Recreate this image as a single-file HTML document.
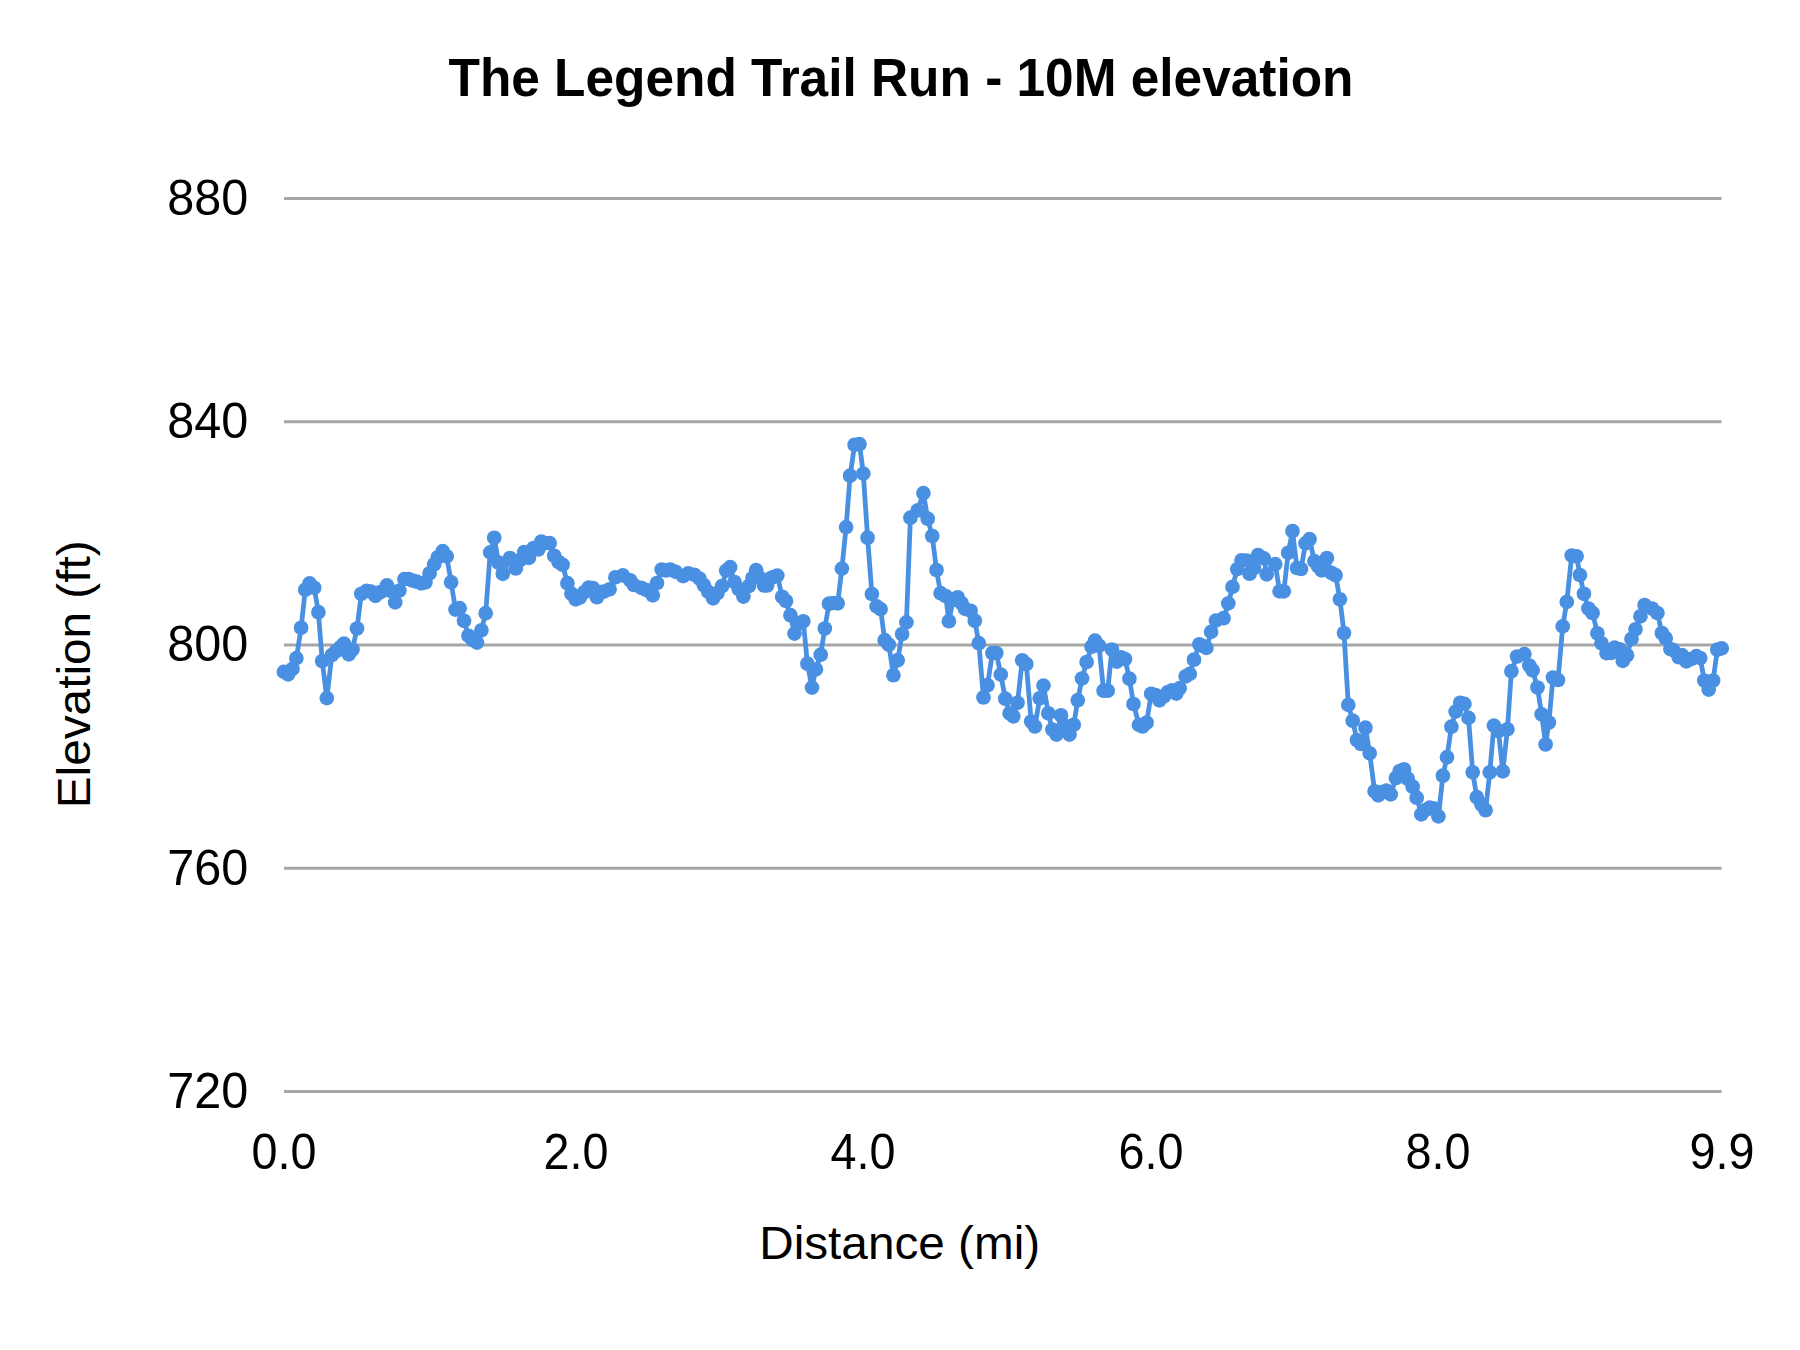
<!DOCTYPE html>
<html><head><meta charset="utf-8">
<style>
html,body{margin:0;padding:0;background:#fff;width:1800px;height:1350px;overflow:hidden}
svg{display:block}
text{font-family:"Liberation Sans",sans-serif;fill:#000}
</style></head><body>
<svg width="1800" height="1350" viewBox="0 0 1800 1350">
<rect width="1800" height="1350" fill="#fff"/>
<text x="901" y="96.3" font-size="53" font-weight="bold" text-anchor="middle" textLength="905" lengthAdjust="spacingAndGlyphs">The Legend Trail Run - 10M elevation</text>
<g stroke="#a6a6a6" stroke-width="3">
<line x1="284" y1="198.5" x2="1721.5" y2="198.5"/>
<line x1="284" y1="421.75" x2="1721.5" y2="421.75"/>
<line x1="284" y1="645" x2="1721.5" y2="645"/>
<line x1="284" y1="868.25" x2="1721.5" y2="868.25"/>
<line x1="284" y1="1091.5" x2="1721.5" y2="1091.5"/>
</g>
<g font-size="50" text-anchor="end">
<text x="248.3" y="214.8" textLength="81" lengthAdjust="spacingAndGlyphs">880</text>
<text x="248.3" y="438.1" textLength="81" lengthAdjust="spacingAndGlyphs">840</text>
<text x="248.3" y="661.3" textLength="81" lengthAdjust="spacingAndGlyphs">800</text>
<text x="248.3" y="884.6" textLength="81" lengthAdjust="spacingAndGlyphs">760</text>
<text x="248.3" y="1107.9" textLength="81" lengthAdjust="spacingAndGlyphs">720</text>
</g>
<g font-size="50" text-anchor="middle">
<text x="283.9" y="1168.9" textLength="65" lengthAdjust="spacingAndGlyphs">0.0</text>
<text x="575.9" y="1168.9" textLength="65" lengthAdjust="spacingAndGlyphs">2.0</text>
<text x="863" y="1168.9" textLength="65" lengthAdjust="spacingAndGlyphs">4.0</text>
<text x="1150.9" y="1168.9" textLength="65" lengthAdjust="spacingAndGlyphs">6.0</text>
<text x="1438" y="1168.9" textLength="65" lengthAdjust="spacingAndGlyphs">8.0</text>
<text x="1721.9" y="1168.9" textLength="65" lengthAdjust="spacingAndGlyphs">9.9</text>
</g>
<text x="899.7" y="1259.2" font-size="47" text-anchor="middle" textLength="281" lengthAdjust="spacingAndGlyphs">Distance (mi)</text>
<text transform="translate(90,674.3) rotate(-90)" x="0" y="0" font-size="47" text-anchor="middle" textLength="268" lengthAdjust="spacingAndGlyphs">Elevation (ft)</text>
<g fill="none" stroke="#4a90e2" stroke-width="4.8" stroke-linejoin="round" stroke-linecap="round"><path d="M283.9,671.9 L288.1,674.4 L292.5,668.9 L296.4,658.1 L301.1,627.8 L305.3,589.7 L309.6,583.4 L314.2,587.8 L318.4,612.2 L322.2,661.0 L326.8,698.1 L331.9,655.0 L336.2,651.0 L340.6,647.0 L344.0,643.7 L348.8,654.4 L352.5,649.5 L357.0,628.5 L361.3,593.8 L366.7,590.8 L371.1,591.6 L375.4,595.8 L380.5,592.0 L386.9,585.4 L391.0,591.0 L395.2,602.4 L399.4,590.6 L404.4,579.1 L408.7,579.1 L412.5,580.5 L416.7,581.7 L421.1,583.3 L425.4,582.4 L429.6,573.3 L434.2,564.4 L437.8,557.3 L442.7,551.1 L446.7,556.4 L451.1,582.2 L455.5,609.6 L459.7,608.2 L464.0,620.8 L468.5,635.8 L472.7,640.0 L477.0,642.6 L481.4,630.3 L485.7,613.2 L490.2,552.4 L494.2,537.8 L498.6,562.7 L502.8,573.8 L509.9,558.0 L515.8,568.5 L520.0,560.0 L524.1,552.1 L528.9,557.8 L533.5,548.0 L538.3,549.5 L541.3,541.7 L545.5,543.0 L549.7,543.1 L554.2,555.8 L558.6,562.0 L562.6,564.8 L567.4,583.2 L571.5,593.7 L575.7,599.3 L579.8,597.6 L584.5,592.0 L588.7,587.6 L593.1,588.1 L596.9,597.2 L603.5,591.7 L609.6,589.3 L615.4,577.3 L622.8,575.4 L630.2,580.3 L633.9,585.0 L641.3,587.8 L646.5,590.0 L652.8,595.3 L657.0,583.0 L661.7,569.5 L666.1,570.5 L670.2,569.5 L675.7,571.9 L683.1,576.1 L688.3,573.3 L694.3,574.8 L699.4,578.5 L703.9,585.2 L708.3,591.9 L713.1,598.3 L717.5,593.0 L722.1,586.0 L726.2,570.6 L730.2,567.1 L734.5,582.0 L738.7,589.0 L743.4,596.6 L748.9,586.0 L752.5,578.0 L756.1,570.2 L760.0,578.0 L764.0,585.5 L767.1,585.5 L771.0,578.0 L773.3,577.0 L777.3,575.6 L782.2,596.8 L786.0,601.0 L790.4,615.2 L794.5,633.6 L798.5,623.3 L803.3,621.3 L807.4,663.7 L812.0,687.6 L815.9,669.3 L820.7,654.7 L824.8,628.5 L829.0,603.7 L833.5,603.0 L837.7,603.3 L841.9,568.6 L846.1,527.1 L850.1,475.7 L854.6,444.8 L859.5,444.1 L863.3,473.6 L867.6,537.7 L871.9,594.0 L876.6,606.4 L880.6,609.1 L884.7,640.2 L888.8,644.7 L893.4,675.2 L897.7,660.2 L902.1,634.0 L906.4,622.4 L910.4,517.7 L917.8,510.3 L923.4,493.1 L927.7,518.7 L932.2,536.0 L936.5,570.0 L940.6,593.2 L945.7,596.0 L948.9,621.2 L953.0,600.0 L957.7,597.3 L961.5,603.0 L965.0,608.8 L970.6,610.8 L974.8,620.7 L978.8,643.2 L983.5,697.5 L987.5,685.2 L992.4,653.0 L996.3,653.0 L1000.8,674.6 L1005.3,698.7 L1009.6,713.3 L1013.3,716.3 L1017.5,702.8 L1022.2,660.3 L1026.3,664.0 L1031.2,721.5 L1034.9,726.5 L1039.7,698.3 L1043.5,685.6 L1048.3,713.3 L1052.3,729.6 L1056.5,734.6 L1061.0,715.3 L1064.6,725.6 L1069.5,734.6 L1073.7,724.8 L1077.8,700.2 L1082.0,678.5 L1086.6,662.0 L1091.6,646.7 L1095.0,640.6 L1099.0,645.8 L1103.6,690.7 L1107.7,690.7 L1111.9,649.5 L1116.8,661.6 L1121.2,657.3 L1125.0,659.0 L1129.4,678.7 L1133.5,704.0 L1139.0,724.9 L1142.6,726.5 L1146.6,722.7 L1151.2,693.8 L1155.5,695.0 L1159.4,700.3 L1163.9,696.4 L1168.0,692.0 L1171.9,690.4 L1176.3,693.6 L1179.7,688.1 L1185.7,676.3 L1189.8,673.9 L1194.0,659.7 L1199.3,644.3 L1203.0,646.0 L1206.4,647.9 L1211.1,631.9 L1215.9,620.6 L1223.6,618.2 L1228.3,603.4 L1232.5,586.9 L1237.2,569.1 L1241.6,560.3 L1246.6,560.5 L1249.6,573.7 L1254.0,568.0 L1258.1,555.0 L1263.8,558.4 L1266.7,574.3 L1275.2,564.2 L1279.6,591.3 L1283.8,591.3 L1288.2,552.8 L1292.5,531.0 L1297.0,568.0 L1301.0,569.0 L1305.5,543.4 L1309.6,539.1 L1314.4,561.2 L1318.0,566.0 L1321.6,570.4 L1326.9,558.0 L1331.2,572.8 L1335.6,575.2 L1339.9,599.3 L1344.0,633.0 L1348.3,704.9 L1352.7,720.7 L1357.0,740.0 L1361.0,744.0 L1365.4,727.7 L1369.7,753.3 L1374.6,791.3 L1378.3,795.4 L1382.0,792.0 L1386.3,790.6 L1390.7,794.4 L1395.9,778.0 L1399.7,771.0 L1404.0,769.3 L1407.7,778.7 L1412.7,786.7 L1416.7,797.7 L1421.3,814.4 L1425.5,810.0 L1429.7,807.6 L1434.3,808.7 L1438.4,816.4 L1442.9,775.7 L1447.0,757.2 L1451.4,726.7 L1455.6,711.6 L1460.2,702.8 L1464.4,703.9 L1468.5,717.9 L1472.7,772.3 L1476.8,797.2 L1481.5,804.5 L1485.6,810.2 L1489.8,772.3 L1493.9,725.6 L1498.4,731.0 L1502.8,771.3 L1507.4,729.3 L1511.4,671.2 L1517.1,656.5 L1524.4,654.1 L1529.3,665.5 L1532.6,670.4 L1537.5,687.5 L1541.6,714.4 L1545.6,744.5 L1548.9,722.5 L1553.0,677.5 L1558.0,680.0 L1562.7,626.4 L1566.8,601.9 L1571.7,555.5 L1576.6,556.3 L1579.9,575.0 L1583.9,593.8 L1588.4,608.5 L1592.6,613.0 L1597.4,633.3 L1601.5,643.3 L1606.5,653.1 L1611.0,653.0 L1614.6,647.6 L1619.8,649.3 L1622.8,660.9 L1627.0,655.2 L1631.5,638.9 L1635.5,629.3 L1640.4,616.3 L1644.6,605.0 L1652.0,608.5 L1657.4,613.0 L1661.9,633.0 L1665.7,638.2 L1670.4,649.0 L1673.1,650.0 L1678.7,657.2 L1682.0,655.2 L1686.4,661.4 L1691.1,659.0 L1696.3,656.2 L1700.2,658.0 L1704.3,680.5 L1708.7,689.6 L1713.1,680.5 L1717.3,649.7 L1721.7,648.4"/></g>
<g fill="#4a90e2"><circle cx="283.9" cy="671.9" r="7.35"/><circle cx="288.1" cy="674.4" r="7.35"/><circle cx="292.5" cy="668.9" r="7.35"/><circle cx="296.4" cy="658.1" r="7.35"/><circle cx="301.1" cy="627.8" r="7.35"/><circle cx="305.3" cy="589.7" r="7.35"/><circle cx="309.6" cy="583.4" r="7.35"/><circle cx="314.2" cy="587.8" r="7.35"/><circle cx="318.4" cy="612.2" r="7.35"/><circle cx="322.2" cy="661.0" r="7.35"/><circle cx="326.8" cy="698.1" r="7.35"/><circle cx="331.9" cy="655.0" r="7.35"/><circle cx="336.2" cy="651.0" r="7.35"/><circle cx="340.6" cy="647.0" r="7.35"/><circle cx="344.0" cy="643.7" r="7.35"/><circle cx="348.8" cy="654.4" r="7.35"/><circle cx="352.5" cy="649.5" r="7.35"/><circle cx="357.0" cy="628.5" r="7.35"/><circle cx="361.3" cy="593.8" r="7.35"/><circle cx="366.7" cy="590.8" r="7.35"/><circle cx="371.1" cy="591.6" r="7.35"/><circle cx="375.4" cy="595.8" r="7.35"/><circle cx="380.5" cy="592.0" r="7.35"/><circle cx="386.9" cy="585.4" r="7.35"/><circle cx="391.0" cy="591.0" r="7.35"/><circle cx="395.2" cy="602.4" r="7.35"/><circle cx="399.4" cy="590.6" r="7.35"/><circle cx="404.4" cy="579.1" r="7.35"/><circle cx="408.7" cy="579.1" r="7.35"/><circle cx="412.5" cy="580.5" r="7.35"/><circle cx="416.7" cy="581.7" r="7.35"/><circle cx="421.1" cy="583.3" r="7.35"/><circle cx="425.4" cy="582.4" r="7.35"/><circle cx="429.6" cy="573.3" r="7.35"/><circle cx="434.2" cy="564.4" r="7.35"/><circle cx="437.8" cy="557.3" r="7.35"/><circle cx="442.7" cy="551.1" r="7.35"/><circle cx="446.7" cy="556.4" r="7.35"/><circle cx="451.1" cy="582.2" r="7.35"/><circle cx="455.5" cy="609.6" r="7.35"/><circle cx="459.7" cy="608.2" r="7.35"/><circle cx="464.0" cy="620.8" r="7.35"/><circle cx="468.5" cy="635.8" r="7.35"/><circle cx="472.7" cy="640.0" r="7.35"/><circle cx="477.0" cy="642.6" r="7.35"/><circle cx="481.4" cy="630.3" r="7.35"/><circle cx="485.7" cy="613.2" r="7.35"/><circle cx="490.2" cy="552.4" r="7.35"/><circle cx="494.2" cy="537.8" r="7.35"/><circle cx="498.6" cy="562.7" r="7.35"/><circle cx="502.8" cy="573.8" r="7.35"/><circle cx="509.9" cy="558.0" r="7.35"/><circle cx="515.8" cy="568.5" r="7.35"/><circle cx="520.0" cy="560.0" r="7.35"/><circle cx="524.1" cy="552.1" r="7.35"/><circle cx="528.9" cy="557.8" r="7.35"/><circle cx="533.5" cy="548.0" r="7.35"/><circle cx="538.3" cy="549.5" r="7.35"/><circle cx="541.3" cy="541.7" r="7.35"/><circle cx="545.5" cy="543.0" r="7.35"/><circle cx="549.7" cy="543.1" r="7.35"/><circle cx="554.2" cy="555.8" r="7.35"/><circle cx="558.6" cy="562.0" r="7.35"/><circle cx="562.6" cy="564.8" r="7.35"/><circle cx="567.4" cy="583.2" r="7.35"/><circle cx="571.5" cy="593.7" r="7.35"/><circle cx="575.7" cy="599.3" r="7.35"/><circle cx="579.8" cy="597.6" r="7.35"/><circle cx="584.5" cy="592.0" r="7.35"/><circle cx="588.7" cy="587.6" r="7.35"/><circle cx="593.1" cy="588.1" r="7.35"/><circle cx="596.9" cy="597.2" r="7.35"/><circle cx="603.5" cy="591.7" r="7.35"/><circle cx="609.6" cy="589.3" r="7.35"/><circle cx="615.4" cy="577.3" r="7.35"/><circle cx="622.8" cy="575.4" r="7.35"/><circle cx="630.2" cy="580.3" r="7.35"/><circle cx="633.9" cy="585.0" r="7.35"/><circle cx="641.3" cy="587.8" r="7.35"/><circle cx="646.5" cy="590.0" r="7.35"/><circle cx="652.8" cy="595.3" r="7.35"/><circle cx="657.0" cy="583.0" r="7.35"/><circle cx="661.7" cy="569.5" r="7.35"/><circle cx="666.1" cy="570.5" r="7.35"/><circle cx="670.2" cy="569.5" r="7.35"/><circle cx="675.7" cy="571.9" r="7.35"/><circle cx="683.1" cy="576.1" r="7.35"/><circle cx="688.3" cy="573.3" r="7.35"/><circle cx="694.3" cy="574.8" r="7.35"/><circle cx="699.4" cy="578.5" r="7.35"/><circle cx="703.9" cy="585.2" r="7.35"/><circle cx="708.3" cy="591.9" r="7.35"/><circle cx="713.1" cy="598.3" r="7.35"/><circle cx="717.5" cy="593.0" r="7.35"/><circle cx="722.1" cy="586.0" r="7.35"/><circle cx="726.2" cy="570.6" r="7.35"/><circle cx="730.2" cy="567.1" r="7.35"/><circle cx="734.5" cy="582.0" r="7.35"/><circle cx="738.7" cy="589.0" r="7.35"/><circle cx="743.4" cy="596.6" r="7.35"/><circle cx="748.9" cy="586.0" r="7.35"/><circle cx="752.5" cy="578.0" r="7.35"/><circle cx="756.1" cy="570.2" r="7.35"/><circle cx="760.0" cy="578.0" r="7.35"/><circle cx="764.0" cy="585.5" r="7.35"/><circle cx="767.1" cy="585.5" r="7.35"/><circle cx="771.0" cy="578.0" r="7.35"/><circle cx="773.3" cy="577.0" r="7.35"/><circle cx="777.3" cy="575.6" r="7.35"/><circle cx="782.2" cy="596.8" r="7.35"/><circle cx="786.0" cy="601.0" r="7.35"/><circle cx="790.4" cy="615.2" r="7.35"/><circle cx="794.5" cy="633.6" r="7.35"/><circle cx="798.5" cy="623.3" r="7.35"/><circle cx="803.3" cy="621.3" r="7.35"/><circle cx="807.4" cy="663.7" r="7.35"/><circle cx="812.0" cy="687.6" r="7.35"/><circle cx="815.9" cy="669.3" r="7.35"/><circle cx="820.7" cy="654.7" r="7.35"/><circle cx="824.8" cy="628.5" r="7.35"/><circle cx="829.0" cy="603.7" r="7.35"/><circle cx="833.5" cy="603.0" r="7.35"/><circle cx="837.7" cy="603.3" r="7.35"/><circle cx="841.9" cy="568.6" r="7.35"/><circle cx="846.1" cy="527.1" r="7.35"/><circle cx="850.1" cy="475.7" r="7.35"/><circle cx="854.6" cy="444.8" r="7.35"/><circle cx="859.5" cy="444.1" r="7.35"/><circle cx="863.3" cy="473.6" r="7.35"/><circle cx="867.6" cy="537.7" r="7.35"/><circle cx="871.9" cy="594.0" r="7.35"/><circle cx="876.6" cy="606.4" r="7.35"/><circle cx="880.6" cy="609.1" r="7.35"/><circle cx="884.7" cy="640.2" r="7.35"/><circle cx="888.8" cy="644.7" r="7.35"/><circle cx="893.4" cy="675.2" r="7.35"/><circle cx="897.7" cy="660.2" r="7.35"/><circle cx="902.1" cy="634.0" r="7.35"/><circle cx="906.4" cy="622.4" r="7.35"/><circle cx="910.4" cy="517.7" r="7.35"/><circle cx="917.8" cy="510.3" r="7.35"/><circle cx="923.4" cy="493.1" r="7.35"/><circle cx="927.7" cy="518.7" r="7.35"/><circle cx="932.2" cy="536.0" r="7.35"/><circle cx="936.5" cy="570.0" r="7.35"/><circle cx="940.6" cy="593.2" r="7.35"/><circle cx="945.7" cy="596.0" r="7.35"/><circle cx="948.9" cy="621.2" r="7.35"/><circle cx="953.0" cy="600.0" r="7.35"/><circle cx="957.7" cy="597.3" r="7.35"/><circle cx="961.5" cy="603.0" r="7.35"/><circle cx="965.0" cy="608.8" r="7.35"/><circle cx="970.6" cy="610.8" r="7.35"/><circle cx="974.8" cy="620.7" r="7.35"/><circle cx="978.8" cy="643.2" r="7.35"/><circle cx="983.5" cy="697.5" r="7.35"/><circle cx="987.5" cy="685.2" r="7.35"/><circle cx="992.4" cy="653.0" r="7.35"/><circle cx="996.3" cy="653.0" r="7.35"/><circle cx="1000.8" cy="674.6" r="7.35"/><circle cx="1005.3" cy="698.7" r="7.35"/><circle cx="1009.6" cy="713.3" r="7.35"/><circle cx="1013.3" cy="716.3" r="7.35"/><circle cx="1017.5" cy="702.8" r="7.35"/><circle cx="1022.2" cy="660.3" r="7.35"/><circle cx="1026.3" cy="664.0" r="7.35"/><circle cx="1031.2" cy="721.5" r="7.35"/><circle cx="1034.9" cy="726.5" r="7.35"/><circle cx="1039.7" cy="698.3" r="7.35"/><circle cx="1043.5" cy="685.6" r="7.35"/><circle cx="1048.3" cy="713.3" r="7.35"/><circle cx="1052.3" cy="729.6" r="7.35"/><circle cx="1056.5" cy="734.6" r="7.35"/><circle cx="1061.0" cy="715.3" r="7.35"/><circle cx="1064.6" cy="725.6" r="7.35"/><circle cx="1069.5" cy="734.6" r="7.35"/><circle cx="1073.7" cy="724.8" r="7.35"/><circle cx="1077.8" cy="700.2" r="7.35"/><circle cx="1082.0" cy="678.5" r="7.35"/><circle cx="1086.6" cy="662.0" r="7.35"/><circle cx="1091.6" cy="646.7" r="7.35"/><circle cx="1095.0" cy="640.6" r="7.35"/><circle cx="1099.0" cy="645.8" r="7.35"/><circle cx="1103.6" cy="690.7" r="7.35"/><circle cx="1107.7" cy="690.7" r="7.35"/><circle cx="1111.9" cy="649.5" r="7.35"/><circle cx="1116.8" cy="661.6" r="7.35"/><circle cx="1121.2" cy="657.3" r="7.35"/><circle cx="1125.0" cy="659.0" r="7.35"/><circle cx="1129.4" cy="678.7" r="7.35"/><circle cx="1133.5" cy="704.0" r="7.35"/><circle cx="1139.0" cy="724.9" r="7.35"/><circle cx="1142.6" cy="726.5" r="7.35"/><circle cx="1146.6" cy="722.7" r="7.35"/><circle cx="1151.2" cy="693.8" r="7.35"/><circle cx="1155.5" cy="695.0" r="7.35"/><circle cx="1159.4" cy="700.3" r="7.35"/><circle cx="1163.9" cy="696.4" r="7.35"/><circle cx="1168.0" cy="692.0" r="7.35"/><circle cx="1171.9" cy="690.4" r="7.35"/><circle cx="1176.3" cy="693.6" r="7.35"/><circle cx="1179.7" cy="688.1" r="7.35"/><circle cx="1185.7" cy="676.3" r="7.35"/><circle cx="1189.8" cy="673.9" r="7.35"/><circle cx="1194.0" cy="659.7" r="7.35"/><circle cx="1199.3" cy="644.3" r="7.35"/><circle cx="1203.0" cy="646.0" r="7.35"/><circle cx="1206.4" cy="647.9" r="7.35"/><circle cx="1211.1" cy="631.9" r="7.35"/><circle cx="1215.9" cy="620.6" r="7.35"/><circle cx="1223.6" cy="618.2" r="7.35"/><circle cx="1228.3" cy="603.4" r="7.35"/><circle cx="1232.5" cy="586.9" r="7.35"/><circle cx="1237.2" cy="569.1" r="7.35"/><circle cx="1241.6" cy="560.3" r="7.35"/><circle cx="1246.6" cy="560.5" r="7.35"/><circle cx="1249.6" cy="573.7" r="7.35"/><circle cx="1254.0" cy="568.0" r="7.35"/><circle cx="1258.1" cy="555.0" r="7.35"/><circle cx="1263.8" cy="558.4" r="7.35"/><circle cx="1266.7" cy="574.3" r="7.35"/><circle cx="1275.2" cy="564.2" r="7.35"/><circle cx="1279.6" cy="591.3" r="7.35"/><circle cx="1283.8" cy="591.3" r="7.35"/><circle cx="1288.2" cy="552.8" r="7.35"/><circle cx="1292.5" cy="531.0" r="7.35"/><circle cx="1297.0" cy="568.0" r="7.35"/><circle cx="1301.0" cy="569.0" r="7.35"/><circle cx="1305.5" cy="543.4" r="7.35"/><circle cx="1309.6" cy="539.1" r="7.35"/><circle cx="1314.4" cy="561.2" r="7.35"/><circle cx="1318.0" cy="566.0" r="7.35"/><circle cx="1321.6" cy="570.4" r="7.35"/><circle cx="1326.9" cy="558.0" r="7.35"/><circle cx="1331.2" cy="572.8" r="7.35"/><circle cx="1335.6" cy="575.2" r="7.35"/><circle cx="1339.9" cy="599.3" r="7.35"/><circle cx="1344.0" cy="633.0" r="7.35"/><circle cx="1348.3" cy="704.9" r="7.35"/><circle cx="1352.7" cy="720.7" r="7.35"/><circle cx="1357.0" cy="740.0" r="7.35"/><circle cx="1361.0" cy="744.0" r="7.35"/><circle cx="1365.4" cy="727.7" r="7.35"/><circle cx="1369.7" cy="753.3" r="7.35"/><circle cx="1374.6" cy="791.3" r="7.35"/><circle cx="1378.3" cy="795.4" r="7.35"/><circle cx="1382.0" cy="792.0" r="7.35"/><circle cx="1386.3" cy="790.6" r="7.35"/><circle cx="1390.7" cy="794.4" r="7.35"/><circle cx="1395.9" cy="778.0" r="7.35"/><circle cx="1399.7" cy="771.0" r="7.35"/><circle cx="1404.0" cy="769.3" r="7.35"/><circle cx="1407.7" cy="778.7" r="7.35"/><circle cx="1412.7" cy="786.7" r="7.35"/><circle cx="1416.7" cy="797.7" r="7.35"/><circle cx="1421.3" cy="814.4" r="7.35"/><circle cx="1425.5" cy="810.0" r="7.35"/><circle cx="1429.7" cy="807.6" r="7.35"/><circle cx="1434.3" cy="808.7" r="7.35"/><circle cx="1438.4" cy="816.4" r="7.35"/><circle cx="1442.9" cy="775.7" r="7.35"/><circle cx="1447.0" cy="757.2" r="7.35"/><circle cx="1451.4" cy="726.7" r="7.35"/><circle cx="1455.6" cy="711.6" r="7.35"/><circle cx="1460.2" cy="702.8" r="7.35"/><circle cx="1464.4" cy="703.9" r="7.35"/><circle cx="1468.5" cy="717.9" r="7.35"/><circle cx="1472.7" cy="772.3" r="7.35"/><circle cx="1476.8" cy="797.2" r="7.35"/><circle cx="1481.5" cy="804.5" r="7.35"/><circle cx="1485.6" cy="810.2" r="7.35"/><circle cx="1489.8" cy="772.3" r="7.35"/><circle cx="1493.9" cy="725.6" r="7.35"/><circle cx="1498.4" cy="731.0" r="7.35"/><circle cx="1502.8" cy="771.3" r="7.35"/><circle cx="1507.4" cy="729.3" r="7.35"/><circle cx="1511.4" cy="671.2" r="7.35"/><circle cx="1517.1" cy="656.5" r="7.35"/><circle cx="1524.4" cy="654.1" r="7.35"/><circle cx="1529.3" cy="665.5" r="7.35"/><circle cx="1532.6" cy="670.4" r="7.35"/><circle cx="1537.5" cy="687.5" r="7.35"/><circle cx="1541.6" cy="714.4" r="7.35"/><circle cx="1545.6" cy="744.5" r="7.35"/><circle cx="1548.9" cy="722.5" r="7.35"/><circle cx="1553.0" cy="677.5" r="7.35"/><circle cx="1558.0" cy="680.0" r="7.35"/><circle cx="1562.7" cy="626.4" r="7.35"/><circle cx="1566.8" cy="601.9" r="7.35"/><circle cx="1571.7" cy="555.5" r="7.35"/><circle cx="1576.6" cy="556.3" r="7.35"/><circle cx="1579.9" cy="575.0" r="7.35"/><circle cx="1583.9" cy="593.8" r="7.35"/><circle cx="1588.4" cy="608.5" r="7.35"/><circle cx="1592.6" cy="613.0" r="7.35"/><circle cx="1597.4" cy="633.3" r="7.35"/><circle cx="1601.5" cy="643.3" r="7.35"/><circle cx="1606.5" cy="653.1" r="7.35"/><circle cx="1611.0" cy="653.0" r="7.35"/><circle cx="1614.6" cy="647.6" r="7.35"/><circle cx="1619.8" cy="649.3" r="7.35"/><circle cx="1622.8" cy="660.9" r="7.35"/><circle cx="1627.0" cy="655.2" r="7.35"/><circle cx="1631.5" cy="638.9" r="7.35"/><circle cx="1635.5" cy="629.3" r="7.35"/><circle cx="1640.4" cy="616.3" r="7.35"/><circle cx="1644.6" cy="605.0" r="7.35"/><circle cx="1652.0" cy="608.5" r="7.35"/><circle cx="1657.4" cy="613.0" r="7.35"/><circle cx="1661.9" cy="633.0" r="7.35"/><circle cx="1665.7" cy="638.2" r="7.35"/><circle cx="1670.4" cy="649.0" r="7.35"/><circle cx="1673.1" cy="650.0" r="7.35"/><circle cx="1678.7" cy="657.2" r="7.35"/><circle cx="1682.0" cy="655.2" r="7.35"/><circle cx="1686.4" cy="661.4" r="7.35"/><circle cx="1691.1" cy="659.0" r="7.35"/><circle cx="1696.3" cy="656.2" r="7.35"/><circle cx="1700.2" cy="658.0" r="7.35"/><circle cx="1704.3" cy="680.5" r="7.35"/><circle cx="1708.7" cy="689.6" r="7.35"/><circle cx="1713.1" cy="680.5" r="7.35"/><circle cx="1717.3" cy="649.7" r="7.35"/><circle cx="1721.7" cy="648.4" r="7.35"/></g>
</svg>
</body></html>
